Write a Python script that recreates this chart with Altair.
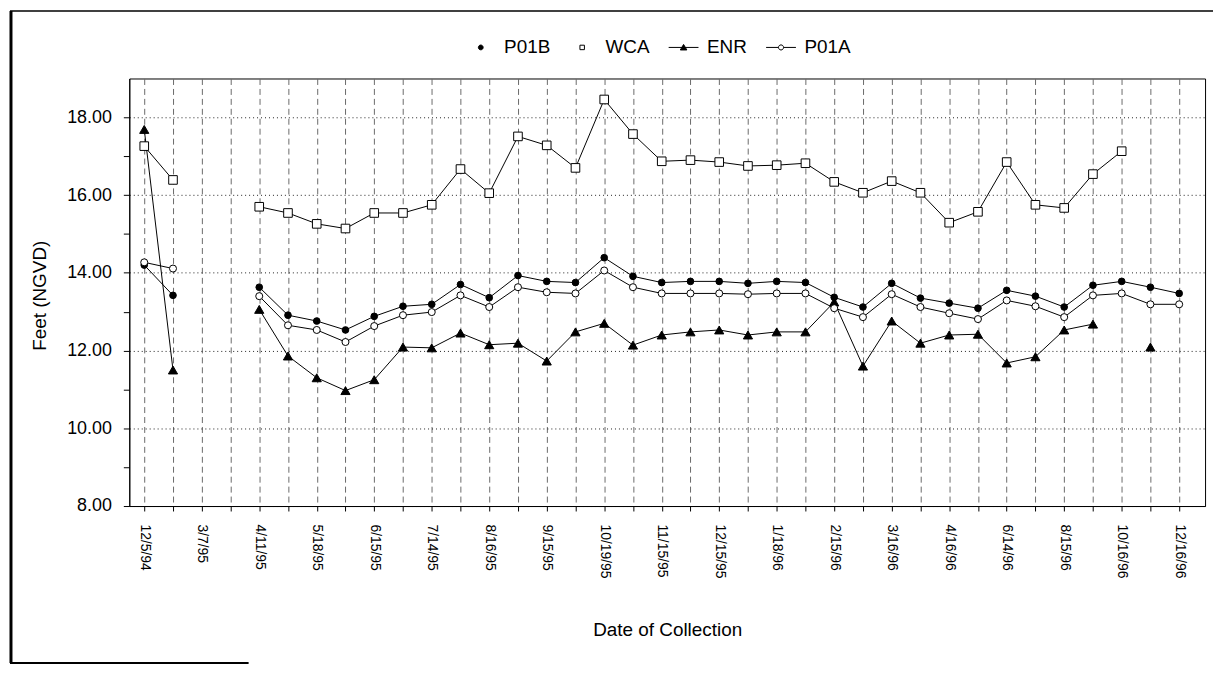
import altair as alt
import pandas as pd

# ---------------- data ----------------
sample_index = list(range(37))
tick_labels = ["12/5/94", "3/7/95", "4/11/95", "5/18/95", "6/15/95", "7/14/95",
               "8/16/95", "9/15/95", "10/19/95", "11/15/95", "12/15/95", "1/18/96",
               "2/15/96", "3/16/96", "4/16/96", "6/14/96", "8/15/96", "10/16/96",
               "12/16/96"]
series_names = ["P01B", "WCA", "ENR", "P01A"]

p01b = [14.20, 13.42, None, None, 13.63, 12.91, 12.76, 12.53, 12.88, 13.14,
        13.19, 13.70, 13.36, 13.93, 13.78, 13.75, 14.39, 13.91, 13.75, 13.78,
        13.78, 13.73, 13.78, 13.75, 13.37, 13.12, 13.73, 13.35, 13.22, 13.09,
        13.55, 13.40, 13.12, 13.68, 13.78, 13.63, 13.47]
wca = [17.26, 16.39, None, None, 15.70, 15.54, 15.26, 15.14, 15.54, 15.54,
       15.75, 16.67, 16.05, 17.51, 17.28, 16.70, 18.46, 17.57, 16.87, 16.90,
       16.85, 16.75, 16.77, 16.82, 16.34, 16.06, 16.36, 16.06, 15.29, 15.57,
       16.85, 15.75, 15.67, 16.54, 17.13, None, None]
enr = [17.69, 11.50, None, None, 13.06, 11.86, 11.30, 10.97, 11.25, 12.09,
       12.07, 12.45, 12.15, 12.19, 11.73, 12.48, 12.70, 12.14, 12.40, 12.48,
       12.53, 12.40, 12.48, 12.48, 13.25, 11.60, 12.76, 12.19, 12.40, 12.42,
       11.68, 11.84, 12.53, 12.68, None, 12.09, None]
p01a = [14.27, 14.11, None, None, 13.40, 12.65, 12.53, 12.22, 12.63, 12.91,
        12.99, 13.42, 13.12, 13.63, 13.50, 13.47, 14.06, 13.63, 13.47, 13.47,
        13.47, 13.45, 13.47, 13.47, 13.09, 12.86, 13.45, 13.12, 12.96, 12.81,
        13.29, 13.14, 12.86, 13.42, 13.47, 13.19, 13.19]

rows = []
for name, vals in zip(series_names, [p01b, wca, enr, p01a]):
    seg = 0
    gap = True
    for i, v in zip(sample_index, vals):
        if v is None:
            gap = True
            continue
        if gap:
            seg += 1
            gap = False
        rows.append({"idx": i, "series": name, "value": v, "seg": f"{name}-{seg}"})
df = pd.DataFrame(rows)

FONT = "Liberation Sans"

lbl_arr = "[" + ",".join("'%s'" % s for s in tick_labels) + "]"
x_enc = alt.X(
    "idx:Q", title="Date of Collection",
    scale=alt.Scale(domain=[-0.52, 36.9], nice=False, zero=False),
    axis=alt.Axis(
        values=sample_index,
        labelExpr=f"datum.value % 2 == 0 ? {lbl_arr}[datum.value / 2] : ''",
        labelAngle=90, labelFontSize=14, labelPadding=13, labelOverlap=False,
        labelFlush=False, tickSize=5, grid=True, gridDash=[6, 4], gridColor="#6a6a6a",
        titleFontSize=19, titleFontWeight="normal", titleY=130,
        titleBaseline="alphabetic",
    ),
)
y_enc = alt.Y(
    "value:Q", title="Feet (NGVD)",
    scale=alt.Scale(domain=[8, 19], nice=False, zero=False),
    axis=alt.Axis(
        values=list(range(8, 19)),
        labelExpr="datum.value % 2 == 0 ? format(datum.value, '.2f') : ''",
        gridOpacity={"condition": {"test": "datum.value % 2 == 1", "value": 0}, "value": 1},
        gridDash=[1, 3], gridColor="#222222", tickSize=6, labelPadding=12,
        labelFontSize=18, titleFontSize=19, titleFontWeight="normal",
        titleX=-90, titleY=218, titleBaseline="middle", titleAlign="center",
    ),
)

lines = alt.Chart(df).mark_line(color="black", strokeWidth=1).encode(
    x=x_enc, y=y_enc, detail="seg:N")

points = alt.Chart(df).mark_point(stroke="black", strokeWidth=1, opacity=1).encode(
    x=x_enc, y=y_enc,
    shape=alt.Shape("series:N", scale=alt.Scale(domain=series_names,
                    range=["circle", "square", "triangle-up", "circle"]), legend=None),
    fill=alt.Fill("series:N", scale=alt.Scale(domain=series_names,
                  range=["black", "white", "black", "white"]), legend=None),
    size=alt.Size("series:N", scale=alt.Scale(type="ordinal", domain=series_names,
                  range=[45, 75, 85, 50]), legend=None),
)

legend_paths = [
    "M0.16,0A0.16,0.16,0,1,1,-0.16,0A0.16,0.16,0,1,1,0.16,0Z",
    "M-0.15,-0.15L0.15,-0.15L0.15,0.15L-0.15,0.15Z",
    "M-1,0L1,0M0,-0.2L0.22,0.17L-0.22,0.17Z",
    "M-1,0L-0.17,0M0.17,0L1,0M0.17,0A0.17,0.17,0,1,1,-0.17,0A0.17,0.17,0,1,1,0.17,0Z",
]
leg = alt.Legend(orient="none", legendX=338, legendY=-47, direction="horizontal",
                 columns=4, symbolSize=900, labelFontSize=19, labelOffset=8,
                 columnPadding=16, title=None, symbolStrokeWidth=1,
                 labelColor="black", padding=0)
legend_layer = alt.Chart(df).transform_filter("false").mark_point(
    strokeWidth=1, opacity=1).encode(
    x=x_enc, y=y_enc,
    shape=alt.Shape("series:N", scale=alt.Scale(domain=series_names, range=legend_paths),
                    legend=leg),
    fill=alt.Fill("series:N", scale=alt.Scale(domain=series_names,
                  range=["black", "white", "black", "white"]), legend=leg),
    stroke=alt.Stroke("series:N", scale=alt.Scale(domain=series_names,
                      range=["black", "black", "black", "black"]), legend=leg),
)

one = pd.DataFrame({"k": [0]})
frame_left = alt.Chart(one).mark_rule(color="black", strokeWidth=3).encode(
    x=alt.value(-119), y=alt.value(-68), y2=alt.value(588))
frame_top = alt.Chart(one).mark_rule(color="black", strokeWidth=1.5).encode(
    x=alt.value(-120), x2=alt.value(1090), y=alt.value(-68))
frame_bottom = alt.Chart(one).mark_rule(color="black", strokeWidth=2).encode(
    x=alt.value(-120), x2=alt.value(120), y=alt.value(588))

chart = alt.layer(lines, points, legend_layer, frame_left, frame_top, frame_bottom).resolve_scale(
    shape="independent", fill="independent", size="independent", stroke="independent"
).properties(
    width=1082, height=430,
    autosize=alt.AutoSizeParams(type="none"),
    padding={"left": 122, "top": 69, "right": 10, "bottom": 160},
).configure(font=FONT).configure_view(stroke="black", strokeWidth=1).configure_axis(
    domainColor="black", tickColor="black", labelColor="black", titleColor="black",
    labelFont=FONT, titleFont=FONT,
).configure_legend(labelFont=FONT)

chart.save("out.html", embed_options={"renderer": "svg", "actions": False})
